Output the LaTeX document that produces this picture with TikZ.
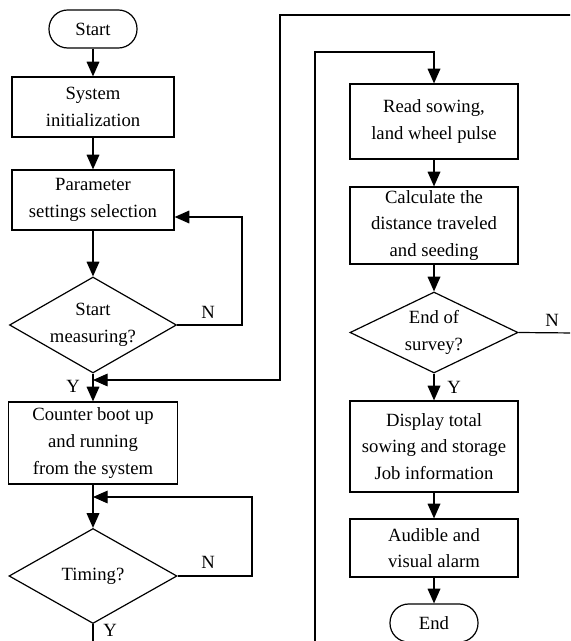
\documentclass[tikz,border=0pt]{standalone}
\usepackage{fontspec}
\setmainfont{Liberation Serif}
\usetikzlibrary{arrows.meta}
\usetikzlibrary{shapes.geometric}
\usetikzlibrary{positioning}

\begin{document}
\begin{tikzpicture}[x=0.75pt, y=-0.75pt,
  every node/.style={font=\fontsize{14}{20}\selectfont, align=center},
  line/.style={line width=0.9pt},
  flow/.style={line, -{Triangle[length=11pt,width=9.5pt]}},
  box/.style={draw, line width=0.9pt, rectangle, inner sep=0pt, minimum width=126pt},
  term/.style={draw, line width=0.9pt, rectangle, rounded corners=14pt, inner sep=0pt,
    minimum width=66pt, minimum height=28.5pt},
  decision/.style={draw, line width=0.9pt, diamond, inner sep=0pt}]
  \useasboundingbox (0,0) rectangle (570,641);
  \clip (0,0) rectangle (570,641);

  \node[term] (start) at (93,29) {Start};
  \node[box, minimum width=121.5pt, minimum height=45pt] (init) at (93,107) {System\\initialization};
  \node[box, minimum width=121.5pt, minimum height=45pt] (param) at (93,200) {Parameter\\settings selection};
  \node[decision, minimum width=125.25pt, minimum height=72pt,
    label=center:{Start\\measuring?}] (measure) at (93,325) {};
  \node[box, minimum width=126.75pt, minimum height=61.5pt] (counter) at (93,443) {Counter boot up\\and running\\from the system};
  \node[decision, minimum width=126pt, minimum height=71.25pt,
    label=center:{Timing?}] (timing) at (93,576) {};

  \node[box, minimum height=56.25pt] (read) at (434,121.5) {Read sowing,\\land wheel pulse};
  \node[box, minimum height=57.75pt] (calc) at (434,225.5) {Calculate the\\distance traveled\\and seeding};
  \node[decision, minimum width=126pt, minimum height=60.75pt,
    label=center:{End of\\survey?}] (survey) at (434,332.5) {};
  \node[box, minimum height=68.25pt] (display) at (434,446.5) {Display total\\sowing and storage\\Job information};
  \node[box, minimum height=43.5pt] (alarm) at (434,548) {Audible and\\visual alarm};
  \node[term] (stop) at (434,623) {End};

  \coordinate (pin)   at (0,217);
  \coordinate (joinA) at (93,380);
  \coordinate (joinB) at (93,497);
  \coordinate (outA)  at (575,15);
  \coordinate (outB)  at (575,333);
  \coordinate (outC)  at (93,650);
  \coordinate (inA)   at (315,650);

  \foreach \a/\b in {start/init, init/param, param/measure, measure/counter,
    counter/timing, read/calc, calc/survey, survey/display, display/alarm, alarm/stop}{%
    \draw[flow] (\a) -- (\b);
  }

  \draw[flow] (measure.east) -| (242,217) -- (param.east |- pin);
  \draw[flow] (timing.east) -| (252,497) -- (joinB);
  \draw[flow] (outA) -| (280,380) -- (joinA);
  \draw[flow] (inA) -- (315,52) -| (read.north);
  \draw[line] (survey.east) -- (outB);
  \draw[line] (timing.south) -- (outC);

  \node (nA) at (208,312) {N};
  \node (yA) at (73,386) {Y};
  \node (nB) at (208,562) {N};
  \node (yB) at (110,630) {Y};
  \node (nC) at (552,320) {N};
  \node (yC) at (454,387) {Y};
\end{tikzpicture}
\end{document}
